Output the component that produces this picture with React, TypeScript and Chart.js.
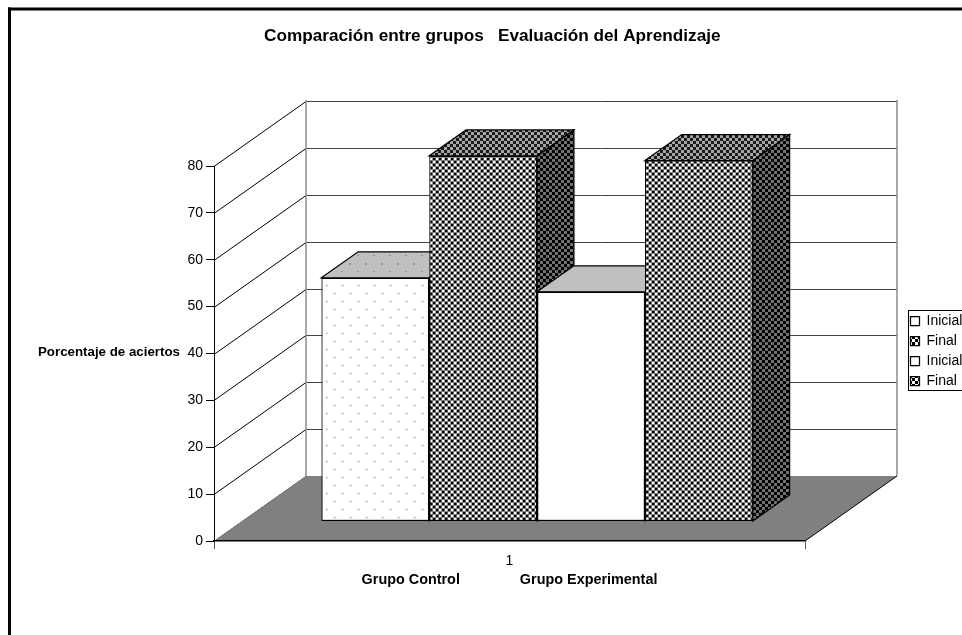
import React, { useEffect, useRef } from "react";
import { Chart, registerables } from "chart.js";

Chart.register(...registerables);

const categories = ["1"];
const inicialControl = [52];
const finalControl = [78];
const inicialExperimental = [49];
const finalExperimental = [77];
const legendLabels = ["Inicial", "Final", "Inicial", "Final"];
const chartTitle = "Comparación entre grupos   Evaluación del Aprendizaje";
const yAxisTitle = "Porcentaje de aciertos";
const xAxisTitle = "Grupo Control               Grupo Experimental";

const FONT = "'Liberation Sans', Arial, sans-serif";

function tile(size: number, paint: (c: CanvasRenderingContext2D) => void): CanvasPattern {
  const cv = document.createElement("canvas");
  cv.width = size;
  cv.height = size;
  const c = cv.getContext("2d")!;
  paint(c);
  return c.createPattern(cv, "repeat")!;
}
function checker(light: string, dark: string) {
  return tile(6, (c) => {
    c.fillStyle = light;
    c.fillRect(0, 0, 6, 6);
    c.fillStyle = dark;
    c.fillRect(0, 0, 3, 3);
    c.fillRect(3, 3, 3, 3);
  });
}
function dots(bg: string, dot: string, x: number, y: number) {
  return tile(16, (c) => {
    c.fillStyle = bg;
    c.fillRect(0, 0, 16, 16);
    c.fillStyle = dot;
    c.fillRect(x, y, 2, 2);
    c.fillRect((x + 8) % 16, (y + 8) % 16, 2, 2);
  });
}

const DEPTH_X = 92;
const DEPTH_Y = 65;
const PLANE = 0.3;
const BAR_DEPTH = 0.4;

const scene3d = {
  id: "scene3d",
  beforeDraw(chart: any) {
    const { ctx, chartArea: a, scales } = chart;
    const y = scales.y;
    ctx.save();
    ctx.fillStyle = "#fff";
    ctx.fillRect(0, 0, chart.width, chart.height);
    ctx.fillStyle = "#000";
    ctx.fillRect(8, 7.5, 3, chart.height);
    ctx.fillRect(8, 7.5, chart.width, 3);

    // back wall and left wall gridlines
    ctx.lineWidth = 1;
    for (const t of y.ticks) {
      const py = Math.round(y.getPixelForValue(t.value)) + 0.5;
      ctx.strokeStyle = "#000";
      ctx.beginPath();
      ctx.moveTo(a.left, py);
      ctx.lineTo(a.left + DEPTH_X, py - DEPTH_Y);
      ctx.stroke();
      ctx.strokeStyle = "#444";
      ctx.beginPath();
      ctx.moveTo(a.left + DEPTH_X, py - DEPTH_Y);
      ctx.lineTo(a.right + DEPTH_X, py - DEPTH_Y);
      ctx.stroke();
    }
    ctx.strokeStyle = "#8c8c8c";
    ctx.lineWidth = 1.5;
    ctx.beginPath();
    ctx.moveTo(a.left + DEPTH_X, a.bottom - DEPTH_Y);
    ctx.lineTo(a.left + DEPTH_X, a.top - DEPTH_Y - 1);
    ctx.moveTo(a.right + DEPTH_X, a.top - DEPTH_Y - 1);
    ctx.lineTo(a.right + DEPTH_X, a.bottom - DEPTH_Y);
    ctx.stroke();

    // floor
    ctx.fillStyle = "#808080";
    ctx.beginPath();
    ctx.moveTo(a.left, a.bottom);
    ctx.lineTo(a.left + DEPTH_X, a.bottom - DEPTH_Y);
    ctx.lineTo(a.right + DEPTH_X, a.bottom - DEPTH_Y);
    ctx.lineTo(a.right, a.bottom);
    ctx.closePath();
    ctx.fill();
    ctx.strokeStyle = "#000";
    ctx.lineWidth = 1;
    ctx.beginPath();
    ctx.moveTo(a.right, a.bottom);
    ctx.lineTo(a.right + DEPTH_X, a.bottom - DEPTH_Y);
    ctx.stroke();
    ctx.restore();
  },
  afterLayout(chart: any) {
    const lg = chart.legend;
    lg.left = 904.5;
    lg.right = 1010;
    lg.top = 308;
    lg.bottom = 430;
    const ti = chart.titleBlock;
    ti.left = 0;
    ti.right = 984.6;
  },
  beforeDatasetsDraw(chart: any, _args: any, opts: any) {
    const { ctx } = chart;
    const ox = DEPTH_X * PLANE;
    const oy = DEPTH_Y * PLANE;
    const dx = DEPTH_X * BAR_DEPTH;
    const dy = DEPTH_Y * BAR_DEPTH;
    chart.data.datasets.forEach((ds: any, i: number) => {
      const meta = chart.getDatasetMeta(i);
      const el = meta.data[0];
      const l = el.x - el.width / 2 + ox;
      const r = el.x + el.width / 2 + ox;
      const t = el.y - oy;
      const b = el.base - oy;
      ctx.save();
      ctx.lineWidth = 1.25;
      ctx.lineJoin = "miter";
      ctx.strokeStyle = "#000";
      ctx.fillStyle = opts.sides[i];
      ctx.beginPath();
      ctx.moveTo(r, t);
      ctx.lineTo(r + dx, t - dy);
      ctx.lineTo(r + dx, b - dy);
      ctx.lineTo(r, b);
      ctx.closePath();
      ctx.fill();
      ctx.stroke();
      ctx.fillStyle = opts.tops[i];
      ctx.beginPath();
      ctx.moveTo(l, t);
      ctx.lineTo(l + dx, t - dy);
      ctx.lineTo(r + dx, t - dy);
      ctx.lineTo(r, t);
      ctx.closePath();
      ctx.fill();
      ctx.stroke();
      ctx.translate(ox, -oy);
      meta.controller.draw();
      ctx.restore();
    });
    return false;
  },
  afterDraw(chart: any) {
    const { ctx } = chart;
    ctx.save();
    ctx.strokeStyle = "#000";
    ctx.lineWidth = 1;
    ctx.strokeRect(908.5, 310.5, 70, 80);
    ctx.fillStyle = "#000";
    ctx.font = `bold 13.3px ${FONT}`;
    ctx.textAlign = "left";
    ctx.textBaseline = "middle";
    ctx.fillText(yAxisTitle, 38, 352);
    ctx.restore();
  },
};

export default function App() {
  const ref = useRef<HTMLCanvasElement>(null);
  useEffect(() => {
    document.body.style.overflow = "hidden";
    const checkFront = checker("#ffffff", "#000000");
    const checkTop = checker("#a6a6a6", "#1a1a1a");
    const checkSide = checker("#707070", "#000000");
    const dotFront = dots("#ffffff", "#c8c8c8", 10, 0);
    const dotTop = dots("#c0c0c0", "#949494", 5, 15);
    const mk = (label: string, data: number[], bg: any) => ({
      label,
      data,
      backgroundColor: bg,
      borderColor: "#000",
      borderWidth: 1.25,
      borderSkipped: false,
    });
    const chart = new Chart(ref.current!, {
      type: "bar",
      data: {
        labels: categories,
        datasets: [
          mk(legendLabels[0], inicialControl, dotFront),
          mk(legendLabels[1], finalControl, checkFront),
          mk(legendLabels[2], inicialExperimental, "#ffffff"),
          mk(legendLabels[3], finalExperimental, checkFront),
        ],
      },
      options: {
        responsive: false,
        animation: false,
        events: [],
        categoryPercentage: 0.73,
        barPercentage: 1,
        font: { family: FONT },
        layout: { padding: { left: 164, right: 107, top: 0, bottom: 0 } },
        scales: {
          x: {
            offset: true,
            afterFit: (s: any) => {
              s.height = 94;
            },
            grid: { drawOnChartArea: false, drawTicks: true, tickLength: 8, color: "#555" },
            border: { color: "#000", width: 1.5 },
            ticks: { color: "#000", font: { family: FONT, size: 14 }, padding: 4 },
            title: {
              display: true,
              text: xAxisTitle,
              color: "#000",
              font: { family: FONT, size: 14.4, weight: "bold" },
              padding: { top: 0, bottom: 46 },
            },
          },
          y: {
            min: 0,
            max: 80,
            afterFit: (s: any) => {
              s.width = 50;
            },
            ticks: { stepSize: 10, color: "#000", font: { family: FONT, size: 14 }, padding: 3 },
            grid: { drawOnChartArea: false, drawTicks: true, tickLength: 8, color: "#000" },
            border: { color: "#000", width: 1 },
          },
        },
        plugins: {
          tooltip: { enabled: false },
          title: {
            display: true,
            text: chartTitle,
            color: "#000",
            font: { family: FONT, size: 17.2, weight: "bold" },
            padding: { top: 26, bottom: 119.36 },
          },
          legend: {
            display: true,
            position: "right",
            align: "start",
            maxWidth: 50,
            labels: {
              boxWidth: 9,
              boxHeight: 9,
              padding: 6,
              color: "#000",
              font: { family: FONT, size: 14 },
            },
          },
          scene3d: {
            sides: [checkSide, checkSide, "#808080", checkSide],
            tops: [dotTop, checkTop, "#c0c0c0", checkTop],
          },
        },
      } as any,
      plugins: [scene3d as any],
    });
    return () => chart.destroy();
  }, []);
  return (
    <canvas
      ref={ref}
      width={962}
      height={635}
      style={{ position: "absolute", left: 0, top: 0, display: "block" }}
    />
  );
}
